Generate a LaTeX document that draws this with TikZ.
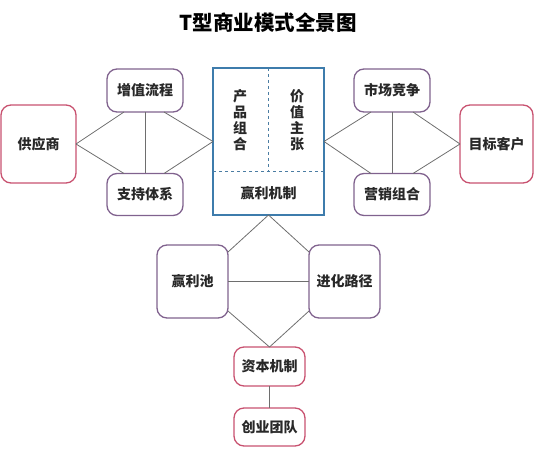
\documentclass[tikz,border=0pt]{standalone}
\usepackage{fontspec}
\setmainfont{Noto Sans CJK SC}
\usetikzlibrary{positioning}
\definecolor{violetbox}{RGB}{128,98,142}
\definecolor{rosebox}{RGB}{200,82,112}
\definecolor{bleucore}{RGB}{62,124,172}
\definecolor{grislien}{RGB}{110,110,110}
\definecolor{texte}{RGB}{40,40,40}

\begin{document}
\begin{tikzpicture}[x=1pt, y=-1pt,
    box/.style={draw=violetbox, rounded corners=10pt, line width=1.3pt, inner sep=0pt, outer sep=0pt, align=center, font=\fontsize{14}{16}\selectfont\bfseries, text=texte},
    endbox/.style={box, draw=rosebox},
    link/.style={draw=grislien, line width=0.8pt}
]
\useasboundingbox (0,0) rectangle (534,462);

% Title
\node[font=\fontsize{20.5}{24}\selectfont\bfseries, text=black] (title) at (268,23) {T型商业模式全景图};

% Core
\node[draw=bleucore, line width=1.3pt, minimum width=111pt, minimum height=147pt, inner sep=0pt, outer sep=0pt] (core) at (268.5,141.5) {};
\coordinate (mid) at (268.5,171);
\draw[bleucore!80!gray, dashed, line width=0.8pt] (core.north) -- (mid);
\draw[bleucore!80!gray, dashed, line width=0.8pt] (core.west |- mid) -- (core.east |- mid);
\node[align=center, font=\fontsize{14}{16}\selectfont\bfseries, text=texte] (produit) at (240,120) {产\\品\\组\\合};
\node[align=center, font=\fontsize{14}{16}\selectfont\bfseries, text=texte] (valeur) at (297,120) {价\\值\\主\\张};
\node[font=\fontsize{14}{16}\selectfont\bfseries, text=texte] (profit) at (268.5,193) {赢利机制};

% Left side
\node[endbox, minimum width=75pt, minimum height=78pt] (fournisseur) at (38.5,144) {供应商};
\node[box, minimum width=76pt, minimum height=43pt] (processus) at (145,90.5) {增值流程};
\node[box, minimum width=76pt, minimum height=42pt] (support) at (145,194.5) {支持体系};

% Right side
\node[endbox, minimum width=73pt, minimum height=78pt] (client) at (496.5,144) {目标客户};
\node[box, minimum width=76pt, minimum height=43pt] (marche) at (392,90.5) {市场竞争};
\node[box, minimum width=76pt, minimum height=42pt] (marketing) at (392,194.5) {营销组合};

% Bottom
\node[box, minimum width=71pt, minimum height=73pt] (pool) at (192.5,281.5) {赢利池};
\node[box, minimum width=71pt, minimum height=73pt] (evolution) at (344.5,281.5) {进化路径};
\node[endbox, minimum width=71pt, minimum height=39pt] (capital) at (269.5,366.5) {资本机制};
\node[endbox, minimum width=71pt, minimum height=38pt] (equipe) at (269.5,427) {创业团队};

% Links left
\draw[link] (fournisseur.east) -- ([xshift=-21pt]processus.south);
\draw[link] (fournisseur.east) -- ([xshift=-21pt]support.north);
\draw[link] (processus.south) -- (support.north);
\draw[link] ([xshift=19pt]processus.south) -- (core.west);
\draw[link] ([xshift=19pt]support.north) -- (core.west);

% Links right
\draw[link] (core.east) -- ([xshift=-21pt]marche.south);
\draw[link] (core.east) -- ([xshift=-21pt]marketing.north);
\draw[link] (marche.south) -- (marketing.north);
\draw[link] ([xshift=21pt]marche.south) -- (client.west);
\draw[link] ([xshift=21pt]marketing.north) -- (client.west);

% Links bottom
\draw[link] (core.south) -- ([yshift=-7pt]pool.north east);
\draw[link] (core.south) -- ([yshift=-7pt]evolution.north west);
\draw[link] (pool.east) -- (evolution.west);
\draw[link] ([yshift=7pt]pool.south east) -- (capital.north);
\draw[link] ([yshift=7pt]evolution.south west) -- (capital.north);
\draw[link] (capital.south) -- (equipe.north);
\end{tikzpicture}
\end{document}
